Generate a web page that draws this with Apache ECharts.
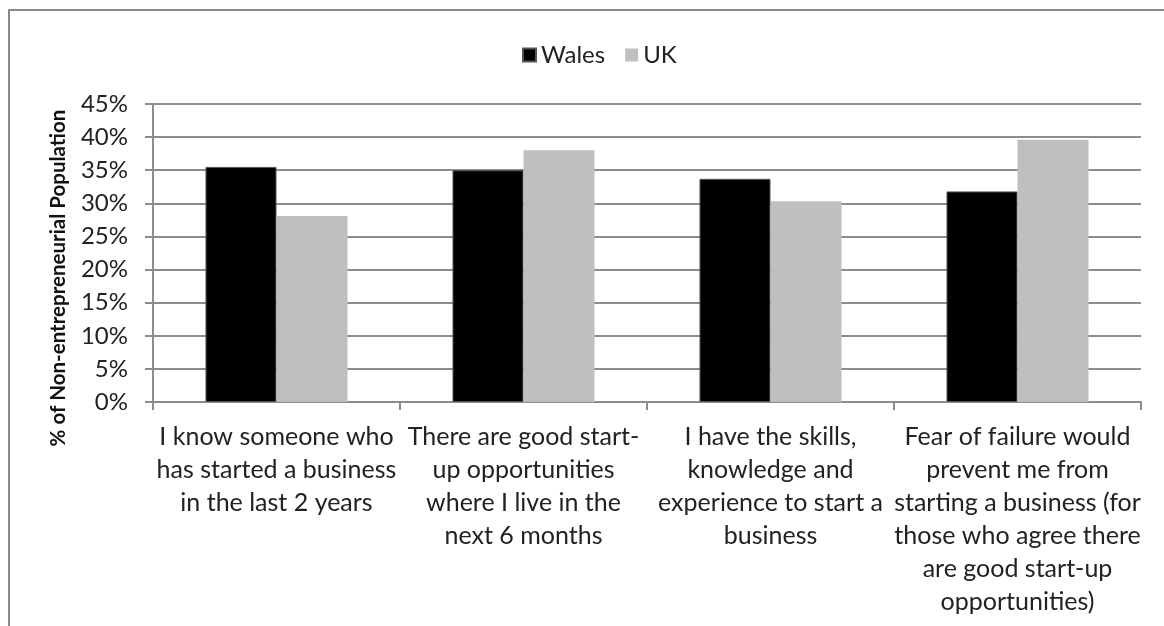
<!DOCTYPE html>
<html>
<head>
<meta charset="utf-8">
<script src="https://cdn.jsdelivr.net/npm/echarts@6/dist/echarts.min.js"></script>
<style>
  html, body { margin: 0; padding: 0; background: #fff; }
  #box { width: 1164px; height: 626px; }
</style>
</head>
<body>
<div id="box"></div>
<script>
// categories (x axis)
var categories = [
  "I know someone who\nhas started a business\nin the last 2 years",
  "There are good start-\nup opportunities\nwhere I live in the\nnext 6 months",
  "I have the skills,\nknowledge and\nexperience to start a\nbusiness",
  "Fear of failure would\nprevent me from\nstarting a business (for\nthose who agree there\nare good start-up\nopportunities)"
];
// series values, %
var walesData = [35.5, 35.0, 33.7, 31.8];
var ukData = [28.1, 38.0, 30.3, 39.6];
// y axis
var yMin = 0;
var yMax = 45;
var yStep = 5;

var fontFamily = "Lato, 'Open Sans', sans-serif";
var gridColor = "#8c8c8c";

var myChart = echarts.init(document.getElementById("box"));
var option = {
  backgroundColor: "#fff",
  animation: false,
  textStyle: { fontFamily: fontFamily, color: "#222" },
  // 外框 + 纵轴标题
  graphic: [
    {
      type: "rect",
      shape: { x: 9, y: 10, width: 1300, height: 800 },
      style: { fill: "none", stroke: "#8a8a8a", lineWidth: 2 },
      silent: true
    },
    {
      type: "text",
      x: 58,
      y: 278,
      rotation: Math.PI / 2,
      style: {
        text: "% of Non-entrepreneurial Population",
        font: "bold 20.5px " + fontFamily,
        fill: "#111",
        align: "center",
        verticalAlign: "middle"
      }
    }
  ],
  legend: {
    data: ["Wales", "UK"],
    left: 517,
    top: 38,
    icon: "rect",
    itemWidth: 13,
    itemHeight: 13,
    itemGap: 20,
    textStyle: { fontSize: 24, color: "#222" }
  },
  grid: {
    left: 153,
    right: 23,
    top: 104,
    bottom: 224,
    containLabel: false
  },
  xAxis: {
    type: "category",
    data: categories,
    axisLine: { lineStyle: { color: gridColor, width: 2 } },
    axisTick: { show: true, length: 8, lineStyle: { color: gridColor, width: 2 } },
    axisLabel: {
      interval: 0,
      margin: 18,
      fontSize: 25,
      lineHeight: 33,
      color: "#222",
      align: "center"
    }
  },
  yAxis: {
    type: "value",
    min: yMin,
    max: yMax,
    interval: yStep,
    axisLine: { show: true, lineStyle: { color: gridColor, width: 2 } },
    axisTick: { show: true, length: 8, lineStyle: { color: gridColor, width: 2 } },
    splitLine: { show: true, lineStyle: { color: gridColor, width: 2 } },
    axisLabel: {
      margin: 25,
      fontSize: 24,
      color: "#222",
      formatter: "{value}%"
    }
  },
  series: [
    {
      name: "Wales",
      type: "bar",
      data: walesData,
      barGap: "0%",
      barCategoryGap: "42.5%",
      itemStyle: { color: "#000", borderColor: "#555", borderWidth: 1 }
    },
    {
      name: "UK",
      type: "bar",
      data: ukData,
      itemStyle: { color: "#bfbfbf" }
    }
  ]
};
myChart.setOption(option);
</script>
</body>
</html>
